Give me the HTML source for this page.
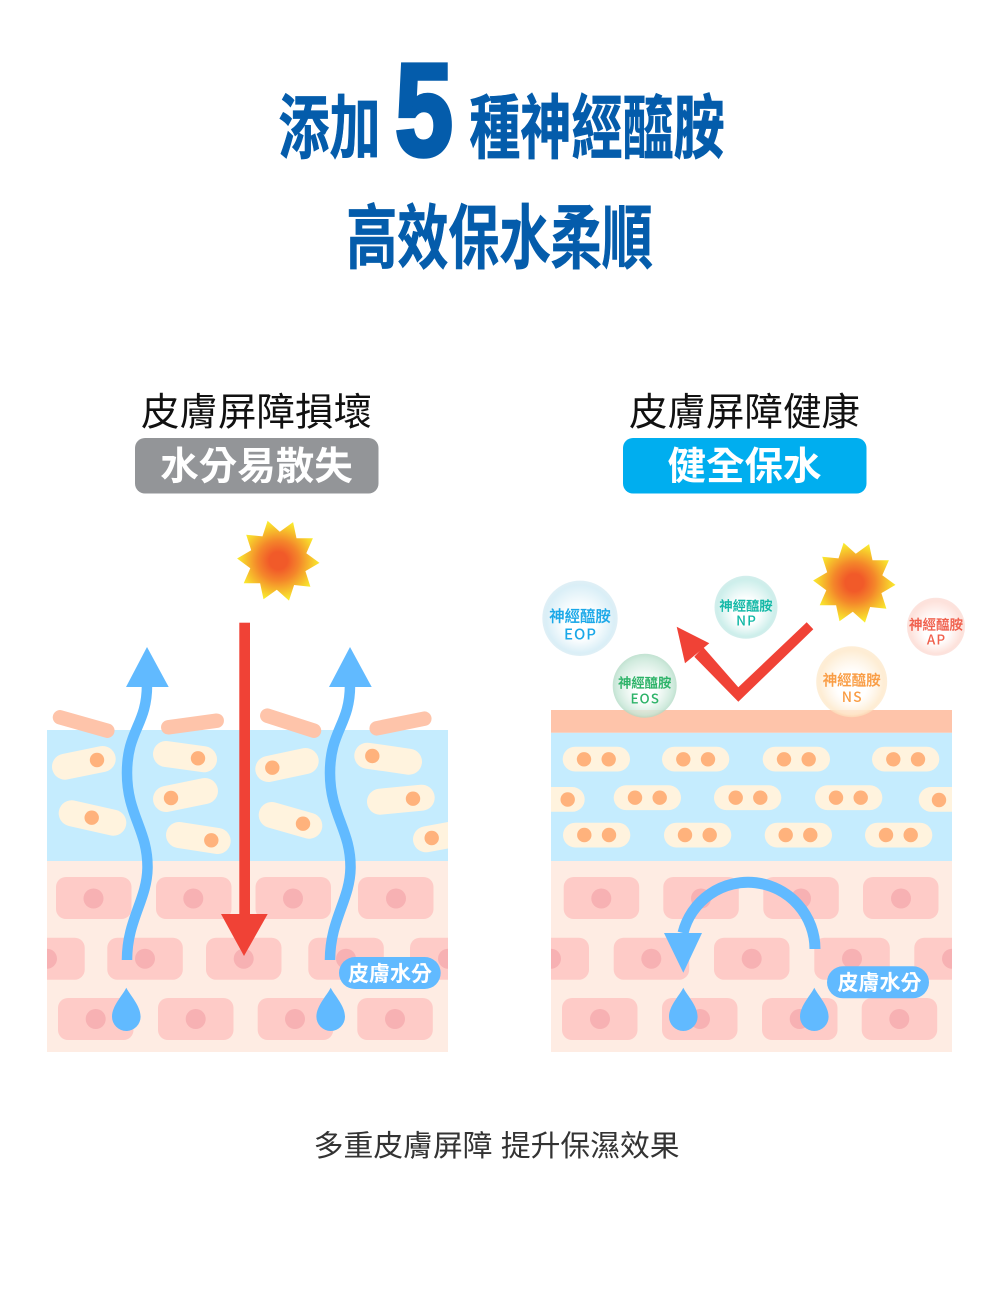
<!DOCTYPE html>
<html lang="zh-Hant">
<head>
<meta charset="utf-8">
<title>添加 5 種神經醯胺</title>
<style>
html,body{margin:0;padding:0;background:#fff}
svg{display:block}
text{font-family:"Liberation Sans","Noto Sans CJK TC",sans-serif}
.cell rect{fill:#fecbc7}
.cell circle{fill:#f7b1b3}
.cream line{stroke:#fff3de;stroke-width:26;stroke-linecap:round}
.cream rect{fill:#fff3de}
.dot circle{fill:#ffb27c}
.sal line{stroke:#fec4aa;stroke-width:14.5;stroke-linecap:round}
.t{font-weight:700;fill:#045cab;stroke:#045cab;stroke-width:.7}
.b text{text-anchor:middle;font-family:"Noto Sans CJK TC","Liberation Sans",sans-serif;font-weight:500;stroke-width:.2}
.w{fill:#fff;font-weight:700;text-anchor:middle}
</style>
</head>
<body>
<svg width="1000" height="1309" viewBox="0 0 1000 1309" xmlns="http://www.w3.org/2000/svg">
<defs>
  <radialGradient id="sg"><stop offset=".22" stop-color="#f15a29"/><stop offset=".5" stop-color="#f4852a"/><stop offset="1" stop-color="#f9ec2e"/></radialGradient>
  <polygon id="sun" fill="url(#sg)" points="-10.7,-39.9 1.5,-29 14.8,-38.6 18.2,-22.5 34.6,-22.5 28,-7.5 41.2,2.2 27.1,10.4 32.1,26 15.8,24.3 10.7,39.9 -1.5,29 -14.8,38.6 -18.2,22.5 -34.6,22.5 -28,7.5 -41.2,-2.2 -27.1,-10.4 -32.1,-26 -15.8,-24.3"/>
  <path id="drop" fill="#61baff" d="M0 0C4 8 14.3 18 14.3 29A14.3 14.3 0 0 1 -14.3 29C-14.3 18 -4 8 0 0Z"/>
  <clipPath id="cl"><rect x="47" y="730" width="401" height="322"/></clipPath>
  <clipPath id="cr"><rect x="551" y="710" width="401" height="342"/></clipPath>
  <radialGradient id="b1" fy=".62"><stop offset=".4" stop-color="#fff" stop-opacity=".9"/><stop offset=".9" stop-color="#d6edf6" stop-opacity=".9"/><stop offset="1" stop-color="#cfe7f1" stop-opacity=".65"/></radialGradient>
  <radialGradient id="b2" fy=".62"><stop offset=".4" stop-color="#fff" stop-opacity=".9"/><stop offset=".9" stop-color="#c8ede9" stop-opacity=".9"/><stop offset="1" stop-color="#bce6e2" stop-opacity=".65"/></radialGradient>
  <radialGradient id="b3" fy=".62"><stop offset=".3" stop-color="#fff" stop-opacity=".7"/><stop offset=".9" stop-color="#c6e6d6" stop-opacity=".85"/><stop offset="1" stop-color="#afd9c3" stop-opacity=".75"/></radialGradient>
  <radialGradient id="b4" fy=".62"><stop offset=".4" stop-color="#fff" stop-opacity=".7"/><stop offset=".9" stop-color="#feeacd" stop-opacity=".85"/><stop offset="1" stop-color="#fce3be" stop-opacity=".6"/></radialGradient>
  <radialGradient id="b5" fy=".62"><stop offset=".4" stop-color="#fff" stop-opacity=".9"/><stop offset=".9" stop-color="#fddfd8" stop-opacity=".9"/><stop offset="1" stop-color="#fbd5cd" stop-opacity=".65"/></radialGradient>
</defs>

<!-- Title -->
<text class="t" font-size="70" text-anchor="middle" transform="translate(329.5 152.5) scale(.73 1)">添加</text>
<text transform="translate(424 155) scale(.79 1)" font-size="131" font-weight="700" fill="#045cab" stroke="#045cab" stroke-width="5" stroke-linejoin="miter" text-anchor="middle" style="font-family:'Liberation Sans',sans-serif">5</text>
<text class="t" font-size="70" text-anchor="middle" transform="translate(597 152.5) scale(.73 1)">種神經醯胺</text>
<text class="t" font-size="70" text-anchor="middle" transform="translate(499.5 262.5) scale(.73 1)">高效保水柔順</text>

<!-- Headings -->
<text x="256.5" y="425.6" font-size="38.5" text-anchor="middle" fill="#111">皮膚屏障損壞</text>
<text x="744.5" y="425.6" font-size="38.5" text-anchor="middle" fill="#111">皮膚屏障健康</text>
<rect x="135" y="438" width="243.5" height="55.5" rx="10" fill="#939598"/>
<rect x="623" y="438" width="243.5" height="55.5" rx="10" fill="#00aeef"/>
<text class="w" x="256.5" y="479.6" font-size="38.5">水分易散失</text>
<text class="w" x="744.5" y="479.6" font-size="38.5">健全保水</text>

<!-- LEFT PANEL -->
<g clip-path="url(#cl)">
  <rect x="47" y="861" width="401" height="191" fill="#feece3"/>
  <g class="cell">
    <rect x="56" y="877" width="75.5" height="42" rx="10"/><rect x="156" y="877" width="75.5" height="42" rx="10"/><rect x="255.5" y="877" width="75.5" height="42" rx="10"/><rect x="358" y="877" width="75.5" height="42" rx="10"/>
    <rect x="20" y="937.7" width="64.7" height="42" rx="10"/><rect x="107.3" y="937.7" width="75.5" height="42" rx="10"/><rect x="206" y="937.7" width="75.5" height="42" rx="10"/><rect x="308.3" y="937.7" width="75.5" height="42" rx="10"/><rect x="410" y="937.7" width="75.5" height="42" rx="10"/>
    <rect x="58" y="998" width="75.5" height="42" rx="10"/><rect x="158" y="998" width="75.5" height="42" rx="10"/><rect x="257.7" y="998" width="75.5" height="42" rx="10"/><rect x="357.3" y="998" width="75.5" height="42" rx="10"/>
    <circle cx="93.5" cy="898.5" r="10"/><circle cx="193.3" cy="898.5" r="10"/><circle cx="293" cy="898.5" r="10"/><circle cx="396" cy="898.5" r="10"/>
    <circle cx="47" cy="958.7" r="10"/><circle cx="145" cy="958.7" r="10"/><circle cx="243.7" cy="958.7" r="10"/><circle cx="346" cy="958.7" r="10"/><circle cx="448" cy="958.7" r="10"/>
    <circle cx="95.7" cy="1019" r="10"/><circle cx="195.7" cy="1019" r="10"/><circle cx="295" cy="1019" r="10"/><circle cx="395" cy="1019" r="10"/>
  </g>
  <rect x="47" y="730" width="401" height="131" fill="#c5ecfe"/>
  <g class="cream">
    <line x1="65" y1="766.7" x2="102.7" y2="759"/>
    <line x1="166" y1="754" x2="204" y2="759.3"/>
    <line x1="166" y1="799" x2="205" y2="791"/>
    <line x1="71.7" y1="813.3" x2="113.3" y2="822.7"/>
    <line x1="179" y1="835" x2="217.7" y2="841"/>
    <line x1="268.3" y1="769" x2="305.7" y2="761"/>
    <line x1="367.3" y1="755.7" x2="409" y2="761.7"/>
    <line x1="380" y1="801.7" x2="421.7" y2="797.7"/>
    <line x1="271.7" y1="815" x2="309.3" y2="825.7"/>
    <line x1="426" y1="839.3" x2="460" y2="833"/>
  </g>
  <g class="dot">
    <circle cx="97" cy="760" r="7.2"/><circle cx="198" cy="758.3" r="7.2"/><circle cx="171" cy="798" r="7.2"/><circle cx="91.7" cy="817.7" r="7.2"/><circle cx="211.3" cy="840.3" r="7.2"/><circle cx="272.3" cy="767.7" r="7.2"/><circle cx="372.3" cy="756" r="7.2"/><circle cx="413" cy="798.7" r="7.2"/><circle cx="303" cy="823.7" r="7.2"/><circle cx="431.7" cy="838" r="7.2"/>
  </g>
</g>
<g class="sal">
  <line x1="60" y1="717.3" x2="107.3" y2="730.7"/>
  <line x1="168.3" y1="727.3" x2="216.7" y2="720.7"/>
  <line x1="267.3" y1="715.7" x2="314" y2="730.7"/>
  <line x1="376.7" y1="728.3" x2="424.3" y2="718.7"/>
</g>
<path d="M127 960C127 920 147 900 147.5 868C148 830 127 815 127 773C127 730 147 725 147 685" fill="none" stroke="#61baff" stroke-width="10.5"/>
<path d="M330 960C330 920 350 900 350.5 868C351 830 330 815 330 773C330 730 350 725 350 685" fill="none" stroke="#61baff" stroke-width="10.5"/>
<polygon points="147,647 126,687 168.7,687" fill="#61baff"/>
<polygon points="350,647 329,687 371.7,687" fill="#61baff"/>
<rect x="239.3" y="622.7" width="10.7" height="295" fill="#f04236"/>
<polygon points="221,914 267.7,914 244,956" fill="#f04236"/>
<use href="#sun" x="278.3" y="560.7"/>
<use href="#drop" x="126.3" y="987.7"/>
<use href="#drop" x="330.7" y="987.7"/>
<rect x="339" y="957" width="101.7" height="32" rx="16" fill="#61baff"/>
<text class="w" x="390" y="981" font-size="21">皮膚水分</text>

<!-- RIGHT PANEL -->
<g clip-path="url(#cr)">
  <rect x="551" y="861" width="401" height="191" fill="#feece3"/>
  <g class="cell">
    <rect x="563.7" y="877" width="75.5" height="42" rx="10"/><rect x="663.3" y="877" width="75.5" height="42" rx="10"/><rect x="763.3" y="877" width="75.5" height="42" rx="10"/><rect x="863" y="877" width="75.5" height="42" rx="10"/>
    <rect x="520" y="937.7" width="69" height="42" rx="10"/><rect x="613.7" y="937.7" width="75.5" height="42" rx="10"/><rect x="714" y="937.7" width="75.5" height="42" rx="10"/><rect x="814.3" y="937.7" width="75.5" height="42" rx="10"/><rect x="914.3" y="937.7" width="75.5" height="42" rx="10"/>
    <rect x="562" y="998" width="75.5" height="42" rx="10"/><rect x="662" y="998" width="75.5" height="42" rx="10"/><rect x="762" y="998" width="75.5" height="42" rx="10"/><rect x="861.7" y="998" width="75.5" height="42" rx="10"/>
    <circle cx="601.3" cy="898.5" r="10"/><circle cx="701" cy="898.5" r="10"/><circle cx="801" cy="898.5" r="10"/><circle cx="901" cy="898.5" r="10"/>
    <circle cx="551" cy="958.7" r="10"/><circle cx="651.3" cy="958.7" r="10"/><circle cx="751.7" cy="958.7" r="10"/><circle cx="852" cy="958.7" r="10"/><circle cx="952" cy="958.7" r="10"/>
    <circle cx="600" cy="1019" r="10"/><circle cx="700" cy="1019" r="10"/><circle cx="799.7" cy="1019" r="10"/><circle cx="899.3" cy="1019" r="10"/>
  </g>
  <rect x="551" y="732.7" width="401" height="128.3" fill="#c5ecfe"/>
  <rect x="551" y="710" width="401" height="22.7" fill="#fec4aa"/>
  <g class="cream">
    <rect x="562.7" y="746.7" width="67.3" height="24.8" rx="12.4"/><rect x="662" y="746.7" width="67.3" height="24.8" rx="12.4"/><rect x="762.7" y="746.7" width="67.3" height="24.8" rx="12.4"/><rect x="872" y="746.7" width="67.3" height="24.8" rx="12.4"/>
    <rect x="520" y="787" width="64.7" height="24.8" rx="12.4"/><rect x="613.7" y="785.3" width="67.3" height="24.8" rx="12.4"/><rect x="714" y="785.3" width="67.3" height="24.8" rx="12.4"/><rect x="815" y="785.3" width="67.3" height="24.8" rx="12.4"/><rect x="918.7" y="787" width="67.3" height="24.8" rx="12.4"/>
    <rect x="563" y="822.7" width="67.3" height="24.8" rx="12.4"/><rect x="664" y="822.7" width="67.3" height="24.8" rx="12.4"/><rect x="764.7" y="822.7" width="67.3" height="24.8" rx="12.4"/><rect x="865" y="822.7" width="67.3" height="24.8" rx="12.4"/>
  </g>
  <g class="dot">
    <circle cx="584" cy="759.3" r="7.2"/><circle cx="608.7" cy="759.3" r="7.2"/><circle cx="683.3" cy="759.3" r="7.2"/><circle cx="708" cy="759.3" r="7.2"/><circle cx="784" cy="759.3" r="7.2"/><circle cx="808.7" cy="759.3" r="7.2"/><circle cx="893.3" cy="759.3" r="7.2"/><circle cx="918" cy="759.3" r="7.2"/>
    <circle cx="567.7" cy="799.5" r="7.2"/><circle cx="635" cy="797.7" r="7.2"/><circle cx="659.7" cy="797.7" r="7.2"/><circle cx="735.7" cy="797.7" r="7.2"/><circle cx="760.3" cy="797.7" r="7.2"/><circle cx="836" cy="797.7" r="7.2"/><circle cx="860.7" cy="797.7" r="7.2"/><circle cx="939" cy="800" r="7.2"/>
    <circle cx="584.3" cy="835" r="7.2"/><circle cx="609" cy="835" r="7.2"/><circle cx="685" cy="835" r="7.2"/><circle cx="709.7" cy="835" r="7.2"/><circle cx="785.7" cy="835" r="7.2"/><circle cx="810.3" cy="835" r="7.2"/><circle cx="886" cy="835" r="7.2"/><circle cx="910.7" cy="835" r="7.2"/>
  </g>
</g>

<!-- red check -->
<polygon points="806.7,622.3 813.3,629.3 738.3,701.7 694.3,656.7 703.3,647.3 738.3,687.3" fill="#f04236"/>
<polygon points="676.7,626.7 685,663.3 709.3,643.3" fill="#f04236"/>
<use href="#sun" x="854.3" y="582.7"/>

<!-- bubbles -->
<circle cx="580" cy="618.3" r="37.7" fill="url(#b1)"/>
<circle cx="746" cy="607.3" r="31.5" fill="url(#b2)"/>
<circle cx="644.7" cy="685.7" r="32" fill="url(#b3)"/>
<circle cx="851.7" cy="681.7" r="35.5" fill="url(#b4)"/>
<circle cx="936" cy="626.7" r="29" fill="url(#b5)"/>
<g class="b">
  <text x="580" y="621.5" font-size="15.4" fill="#1ba8e8" stroke="#1ba8e8">神經醯胺</text>
  <text x="580.5" y="639.5" font-size="15" fill="#1ba8e8" letter-spacing="1">EOP</text>
  <text x="746" y="610.7" font-size="13.3" fill="#12b8a6" stroke="#12b8a6">神經醯胺</text>
  <text x="746.5" y="625.7" font-size="13.5" fill="#12b8a6" letter-spacing="1">NP</text>
  <text x="644.7" y="687.7" font-size="13.3" fill="#2db368" stroke="#2db368">神經醯胺</text>
  <text x="645.2" y="703.7" font-size="13.5" fill="#2db368" letter-spacing="1">EOS</text>
  <text x="851.7" y="685.5" font-size="14.5" fill="#f99d45" stroke="#f99d45">神經醯胺</text>
  <text x="852.2" y="702" font-size="14" fill="#f99d45" letter-spacing="1">NS</text>
  <text x="936" y="629.7" font-size="13.5" fill="#f0604d" stroke="#f0604d">神經醯胺</text>
  <text x="936.5" y="644.7" font-size="13.5" fill="#f0604d" letter-spacing="1">AP</text>
</g>

<!-- curved arrow -->
<path d="M815 949A67 67 0 0 0 683 933" fill="none" stroke="#61baff" stroke-width="11"/>
<polygon points="664,933 702,933 683.3,972.7" fill="#61baff"/>
<use href="#drop" x="683.3" y="987.7"/>
<use href="#drop" x="814.3" y="987.7"/>
<rect x="827" y="966.3" width="102" height="32" rx="16" fill="#61baff"/>
<text class="w" x="879.5" y="990" font-size="21">皮膚水分</text>

<!-- footer -->
<text x="496.7" y="1156" font-size="29.8" text-anchor="middle" fill="#333">多重皮膚屏障 提升保濕效果</text>
</svg>
</body>
</html>
